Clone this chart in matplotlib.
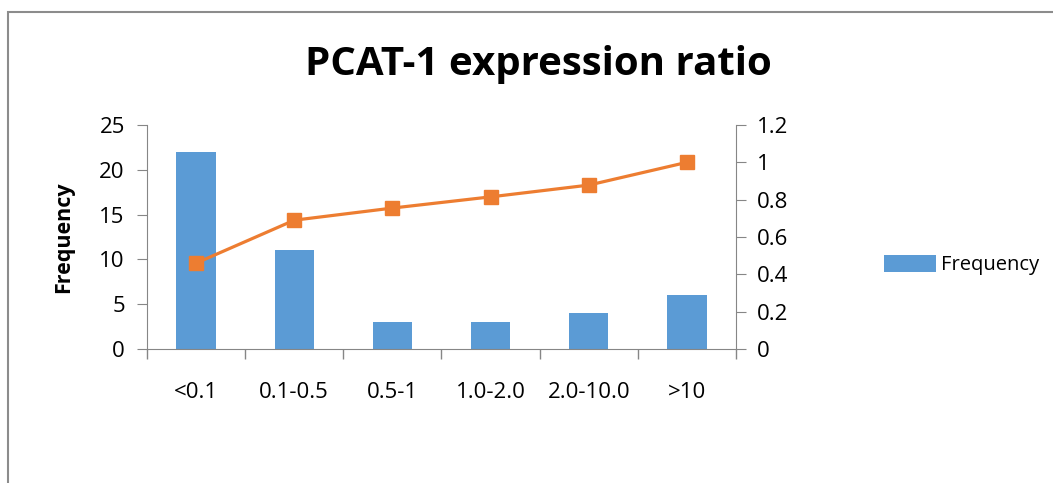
import matplotlib.pyplot as plt
from matplotlib.patches import Rectangle

# data
categories = ["<0.1", "0.1-0.5", "0.5-1", "1.0-2.0", "2.0-10.0", ">10"]
frequency = [22, 11, 3, 3, 4, 6]
cumulative = [0.46, 0.69, 0.755, 0.815, 0.878, 1.0]

plt.rcParams["font.family"] = ["Open Sans", "DejaVu Sans"]

fig = plt.figure(figsize=(10.53, 4.83), dpi=100)
ax = fig.add_axes([147 / 1053, 1 - 349 / 483, (736 - 147) / 1053, (349 - 125) / 483])

# outer chart frame (cut off at right and bottom)
fig.patches.append(Rectangle((8 / 1053, -0.1), 1.2, 1 - 12 / 483 + 0.1,
                             transform=fig.transFigure, fill=False,
                             edgecolor="#8c8c8c", linewidth=1.5))

x = range(len(categories))
bars = ax.bar(x, frequency, width=0.4, color="#5b9bd5", label="Frequency", zorder=2)
ax.set_xlim(-0.5, len(categories) - 0.5)
ax.set_ylim(0, 25)
ax.set_yticks([0, 5, 10, 15, 20, 25])
ax.set_xticks(x)
ax.set_xticklabels(categories)
ax.set_xticks([i - 0.5 for i in range(len(categories) + 1)], minor=True)
ax.tick_params(axis="x", which="major", length=0, pad=24, labelsize=16)
ax.tick_params(axis="x", which="minor", length=7, color="#868686", width=1)
ax.tick_params(axis="y", length=7, color="#868686", labelsize=16, pad=9)
for s in ["top", "right"]:
    ax.spines[s].set_visible(False)
for s in ["left", "bottom"]:
    ax.spines[s].set_color("#868686")
ax.set_ylabel("Frequency", fontsize=15.5, fontweight="bold", labelpad=18)

ax2 = ax.twinx()
ax2.plot(x, cumulative, color="#ed7d31", linewidth=2.3, marker="s",
         markersize=10, zorder=3)
ax2.set_ylim(0, 1.2)
ax2.set_yticks([0, 0.2, 0.4, 0.6, 0.8, 1.0, 1.2])
ax2.set_yticklabels(["0", "0.2", "0.4", "0.6", "0.8", "1", "1.2"])
ax2.tick_params(axis="y", length=7, color="#868686", labelsize=16, pad=8)
for s in ["top", "left", "bottom"]:
    ax2.spines[s].set_visible(False)
ax2.spines["right"].set_color("#868686")

fig.text(538 / 1053, 1 - 65 / 483, "PCAT-1 expression ratio", ha="center",
         va="center", fontsize=29, fontweight="bold")

fig.legend(handles=[bars], loc="center left", bbox_to_anchor=(876 / 1053, 1 - 265 / 483),
           frameon=False, fontsize=14.5, handlelength=2.6, handleheight=0.9,
           handletextpad=0.25, borderaxespad=0)

fig.savefig("out.png", dpi=100)
